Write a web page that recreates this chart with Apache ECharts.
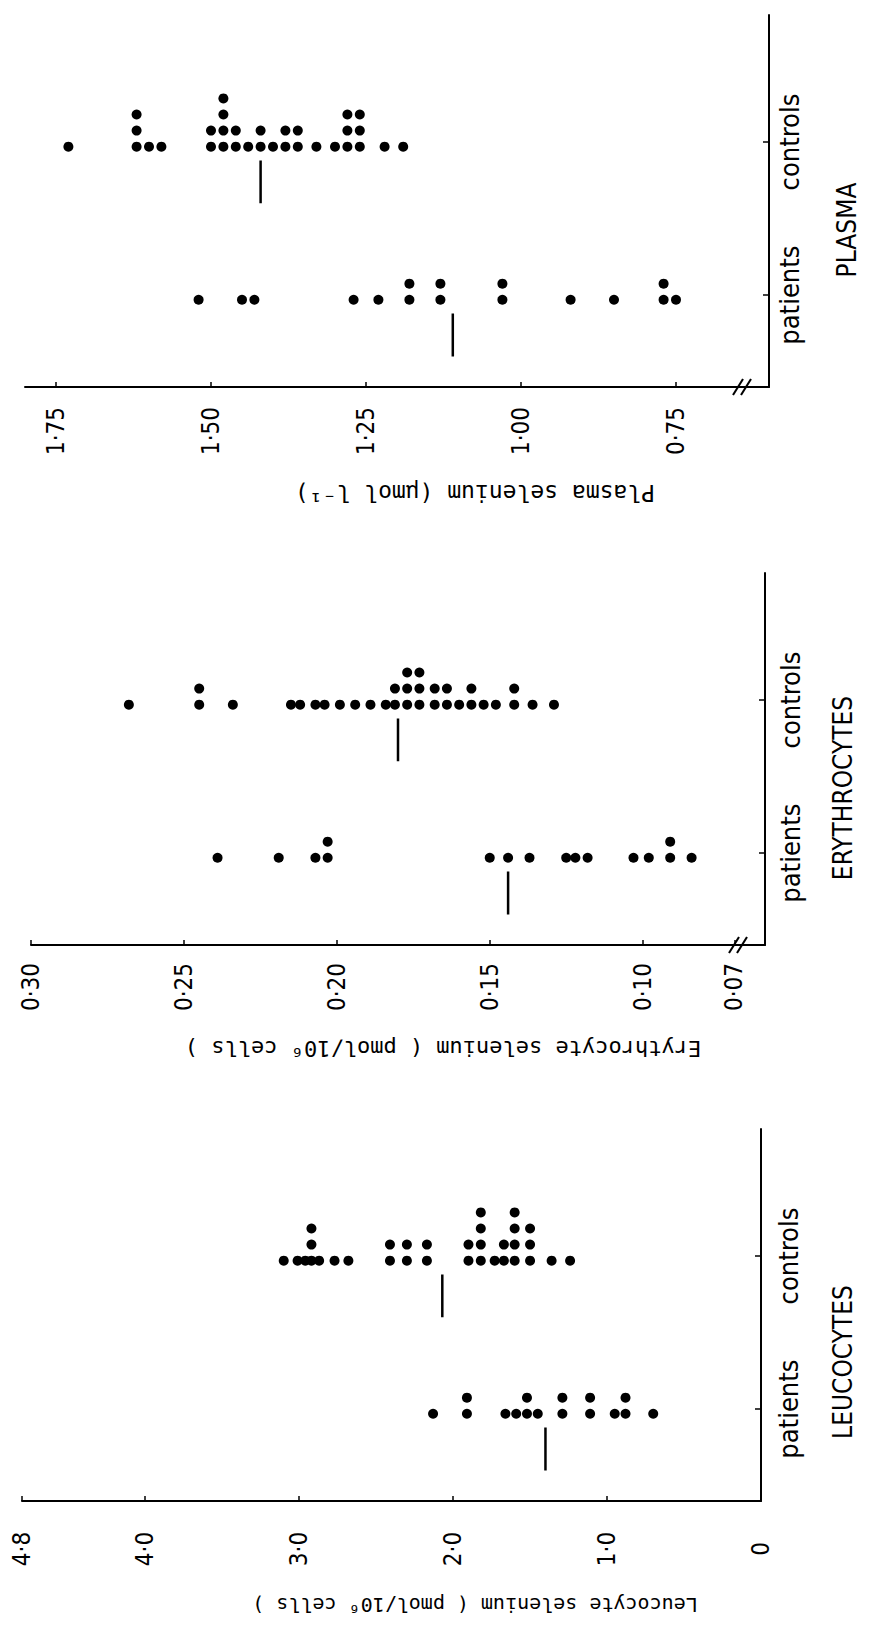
<!DOCTYPE html>
<html><head><meta charset="utf-8">
<script src="https://cdn.jsdelivr.net/npm/echarts@6.0.0/dist/echarts.min.js"></script>
<style>html,body{margin:0;padding:0;background:#fff}#c{width:869px;height:1640px}</style>
</head><body><div id="c"></div>
<script>
// ---------- DATA ----------
const groupLabels = ['patients', 'controls'];
const panelTitles = ['PLASMA', 'ERYTHROCYTES', 'LEUCOCYTES'];
const axisTitles = ['Plasma selenium (µmol l⁻¹)', 'Erythrocyte selenium ( pmol/10⁶ cells )', 'Leucocyte selenium ( pmol/10⁶ cells )'];

const plasmaPatients = [1.52, 1.45, 1.43, 1.27, 1.23, 1.18, 1.18, 1.13, 1.13, 1.03, 1.03, 0.92, 0.85, 0.77, 0.77, 0.75];
const plasmaControls = [1.73, 1.62, 1.62, 1.62, 1.60, 1.58, 1.50, 1.50, 1.48, 1.48, 1.48, 1.48, 1.46, 1.46, 1.44, 1.42, 1.42, 1.40, 1.38, 1.38, 1.36, 1.36, 1.33, 1.30, 1.28, 1.28, 1.28, 1.26, 1.26, 1.26, 1.22, 1.19];
const plasmaMedians = [1.11, 1.42];
const plasmaTicks = [0.75, 1.00, 1.25, 1.50, 1.75];
const plasmaTickLabels = ['0·75', '1·00', '1·25', '1·50', '1·75'];
const plasmaRange = [0.6, 1.8];

const eryPatients = [0.239, 0.219, 0.207, 0.203, 0.203, 0.150, 0.144, 0.137, 0.125, 0.122, 0.118, 0.103, 0.098, 0.091, 0.091, 0.084];
const eryControls = [0.268, 0.245, 0.245, 0.234, 0.215, 0.212, 0.207, 0.204, 0.199, 0.194, 0.189, 0.184, 0.181, 0.181, 0.177, 0.177, 0.177, 0.173, 0.173, 0.173, 0.168, 0.168, 0.164, 0.164, 0.160, 0.156, 0.156, 0.152, 0.148, 0.142, 0.142, 0.136, 0.129];
const eryMedians = [0.144, 0.180];
const eryTicks = [0.07, 0.10, 0.15, 0.20, 0.25, 0.30];
const eryTickLabels = ['0·07', '0·10', '0·15', '0·20', '0·25', '0·30'];
const eryRange = [0.06, 0.30];

const leucoPatients = [2.13, 1.91, 1.91, 1.66, 1.59, 1.52, 1.52, 1.45, 1.29, 1.29, 1.11, 1.11, 0.95, 0.88, 0.88, 0.70];
const leucoControls = [3.10, 3.01, 2.96, 2.92, 2.92, 2.92, 2.87, 2.77, 2.68, 2.41, 2.41, 2.30, 2.30, 2.17, 2.17, 1.90, 1.90, 1.82, 1.82, 1.82, 1.82, 1.73, 1.67, 1.67, 1.60, 1.60, 1.60, 1.60, 1.50, 1.50, 1.50, 1.36, 1.24];
const leucoMedians = [1.40, 2.07];
const leucoTicks = [0, 1, 2, 3, 4, 4.8];
const leucoTickLabels = ['0', '1·0', '2·0', '3·0', '4·0', '4·8'];
const leucoRange = [0, 4.8];

// ---------- LAYOUT / STYLE ----------
const SANS = "'DejaVu Sans Condensed', 'Liberation Sans', sans-serif";
const MONO = "'DejaVu Sans Mono', monospace";
const Y_RANGE = [-0.6, 1.83];
const DOT_BASE = -0.03, DOT_STEP = 0.105;
const MED_TOP = -0.12, MED_BOT = -0.40;

const panels = [
  { grid: { left: 25, top: 15, width: 744, height: 372 }, range: plasmaRange, ticks: plasmaTicks, labels: plasmaTickLabels,
    groups: [plasmaPatients, plasmaControls], medians: plasmaMedians, tickMargin: 44, catMargin: 20, brk: true,
    title: { x: 847, y: 230 }, axisTitle: { x: 475, y: 493, size: 23 } },
  { grid: { left: 31, top: 573, width: 734, height: 372 }, range: eryRange, ticks: eryTicks, labels: eryTickLabels,
    groups: [eryPatients, eryControls], medians: eryMedians, tickMargin: 42, catMargin: 25, brk: true,
    title: { x: 843, y: 788 }, axisTitle: { x: 443, y: 1048, size: 22 } },
  { grid: { left: 22, top: 1129, width: 739, height: 372 }, range: leucoRange, ticks: leucoTicks, labels: leucoTickLabels,
    groups: [leucoPatients, leucoControls], medians: leucoMedians, tickMargin: 48, catMargin: 27, brk: false,
    title: { x: 843, y: 1362 }, axisTitle: { x: 475, y: 1605, size: 20 } }
];

const chart = echarts.init(document.getElementById('c'), null, { renderer: 'svg' });

const grids = [], xAxes = [], yAxes = [], series = [];
panels.forEach((p, i) => {
  grids.push(Object.assign({ outerBoundsMode: 'none', containLabel: false }, p.grid));
  xAxes.push({
    gridIndex: i, type: 'value', inverse: true, min: p.range[0], max: p.range[1],
    axisLine: { show: true, onZero: false, lineStyle: { color: '#000', width: 2 } },
    axisTick: { show: true, inside: true, length: 5, customValues: p.ticks, lineStyle: { color: '#000', width: 1.5 } },
    axisLabel: {
      customValues: p.ticks,
      formatter: v => { const k = p.ticks.findIndex(t => Math.abs(t - v) < 1e-9); return k >= 0 ? p.labels[k] : ''; },
      rotate: 90, margin: p.tickMargin, align: 'center', verticalAlign: 'middle',
      fontSize: 24, fontFamily: SANS, color: '#000'
    },
    splitLine: { show: false }
  });
  yAxes.push({
    gridIndex: i, type: 'value', position: 'right', min: Y_RANGE[0], max: Y_RANGE[1],
    axisLine: { show: true, onZero: false, lineStyle: { color: '#000', width: 2 } },
    axisTick: { show: true, inside: true, length: 6, customValues: [0, 1], lineStyle: { color: '#000', width: 1.5 } },
    axisLabel: {
      customValues: [0, 1],
      formatter: v => groupLabels[Math.round(v)] || '',
      rotate: 90, margin: p.catMargin, align: 'center', verticalAlign: 'middle',
      fontSize: 27, fontFamily: SANS, color: '#000'
    },
    splitLine: { show: false }
  });
  const dots = [];
  p.groups.forEach((vals, g) => {
    const seen = {};
    vals.forEach(v => {
      const r = seen[v] || 0; seen[v] = r + 1;
      dots.push([v, g + DOT_BASE + r * DOT_STEP]);
    });
  });
  series.push({ type: 'scatter', xAxisIndex: i, yAxisIndex: i, data: dots, symbol: 'circle', symbolSize: 10,
    itemStyle: { color: '#000', opacity: 1 }, silent: true, animation: false });
  p.medians.forEach((m, g) => {
    series.push({ type: 'line', xAxisIndex: i, yAxisIndex: i, data: [[m, g + MED_TOP], [m, g + MED_BOT]],
      symbol: 'none', lineStyle: { color: '#000', width: 2.5, opacity: 1 }, silent: true, animation: false });
  });
});

chart.setOption({
  backgroundColor: '#fff', animation: false,
  grid: grids, xAxis: xAxes, yAxis: yAxes, series: series
});

// titles and axis-break marks
const graphics = [];
panels.forEach((p, i) => {
  graphics.push({ type: 'text', x: p.title.x, y: p.title.y, rotation: Math.PI / 2,
    style: { text: panelTitles[i], fontSize: 26, fontFamily: SANS, fill: '#000', align: 'center', verticalAlign: 'middle' } });
  graphics.push({ type: 'text', x: p.axisTitle.x, y: p.axisTitle.y, rotation: Math.PI,
    style: { text: axisTitles[i], fontSize: p.axisTitle.size, fontFamily: MONO, fill: '#000', align: 'center', verticalAlign: 'middle' } });
  if (p.brk) {
    const corner = chart.convertToPixel({ gridIndex: i }, [p.range[0], Y_RANGE[0]]);
    const bx = corner[0] - 27, by = corner[1];
    [-4, 4].forEach(d => {
      graphics.push({ type: 'line', shape: { x1: bx + d - 5, y1: by + 8, x2: bx + d + 5, y2: by - 8 },
        style: { stroke: '#000', lineWidth: 2 } });
    });
  }
});
chart.setOption({ graphic: graphics });
</script>
</body></html>
